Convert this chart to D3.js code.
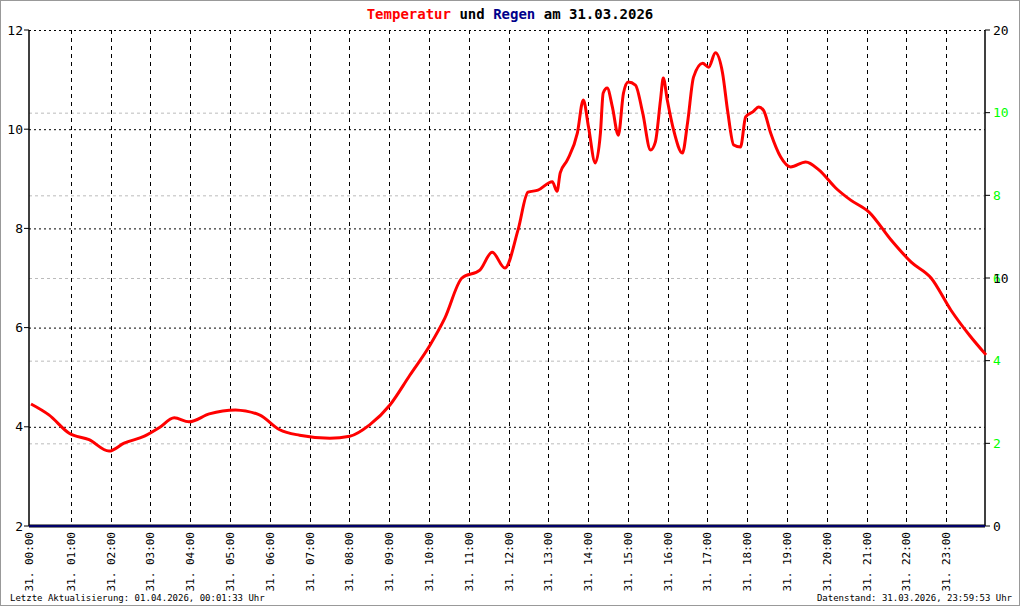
<!doctype html>
<html lang="de">
  <head>
    <meta charset="UTF-8" />
    <title>Temperatur und Regen am 31.03.2026</title>
    <script src="https://d3js.org/d3.v7.min.js"></script>
    <style>
      body { margin: 0; padding: 0; background: #fff; }
      svg { display: block; font-family: 'DejaVu Sans Mono', monospace; }
      .tick-label { font-size: 13px; }
      .x-label { font-size: 11px; }
      .footer { font-size: 9px; }
    </style>
  </head>
  <body>
    <div id="chart"></div>
    <script>
      // Zeitpunkte (Stunden) und Temperatur (°C)
      const hours = [0, 0.45, 0.96, 1.46, 1.96, 2.34, 2.85, 3.22, 3.6, 3.97, 4.48, 5.14, 5.74, 6.25, 6.75,
        7.51, 8.01, 8.51, 9.02, 9.52, 10.03, 10.4, 10.83, 11.28, 11.59, 11.91, 12.24, 12.49, 12.74,
        13.1, 13.22, 13.3, 13.48, 13.73, 13.88, 14.01, 14.18, 14.31, 14.38, 14.48, 14.61, 14.76,
        14.89, 15.01, 15.19, 15.37, 15.57, 15.69, 15.82, 15.89, 15.99, 16.15, 16.37, 16.5, 16.65,
        16.88, 17.03, 17.2, 17.38, 17.51, 17.66, 17.83, 17.96, 18.14, 18.29, 18.41, 18.59, 18.84,
        19.09, 19.47, 19.8, 20.23, 20.6, 21.06, 21.61, 22.12, 22.62, 23.12, 23.58, 24.0]
      const temps = [4.46, 4.24, 3.87, 3.74, 3.51, 3.67, 3.81, 3.98, 4.18, 4.1, 4.26, 4.34, 4.24, 3.94, 3.83,
        3.77, 3.81, 4.04, 4.44, 5.04, 5.65, 6.19, 7.0, 7.16, 7.52, 7.2, 7.97, 8.73, 8.77,
        8.94, 8.75, 9.12, 9.38, 9.92, 10.59, 10.05, 9.32, 9.92, 10.73, 10.83, 10.45, 9.88,
        10.73, 10.95, 10.89, 10.34, 9.58, 9.74, 10.59, 11.03, 10.59, 9.98, 9.52, 10.13, 11.05,
        11.33, 11.25, 11.54, 11.13, 10.35, 9.68, 9.64, 10.25, 10.35, 10.45, 10.38, 9.92, 9.44,
        9.24, 9.34, 9.18, 8.81, 8.57, 8.33, 7.77, 7.32, 7.0, 6.35, 5.85, 5.45]

      const hourTicks = d3.range(0, 24)
      const leftTicks = [2, 4, 6, 8, 10, 12]
      const rightTicks = [0, 2, 4, 6, 8, 10]
      const rightExtraLabels = [{ v: 12, t: '20' }, { v: 6, t: '10' }]

      const W = 1020, H = 606
      const m = { left: 29, right: 985, top: 30, bottom: 526 }

      const svg = d3.select('#chart').append('svg').attr('width', W).attr('height', H)

      svg.append('rect').attr('x', 0.5).attr('y', 0.5).attr('width', W - 1).attr('height', H - 1)
        .attr('fill', '#fff').attr('stroke', '#999')

      const x = d3.scaleLinear().domain([0, 24]).range([31, 986])
      const y = d3.scaleLinear().domain([2, 12]).range([m.bottom, m.top])
      const yR = d3.scaleLinear().domain([0, 12]).range([m.bottom, m.top])

      // grey dashed rain grid
      svg.append('g').selectAll('line').data(rightTicks.filter((d) => d > 0)).join('line')
        .attr('x1', m.left).attr('x2', m.right).attr('y1', (d) => yR(d) + 0.5).attr('y2', (d) => yR(d) + 0.5)
        .attr('stroke', '#bbb').attr('stroke-dasharray', '3,3')

      // black dotted temperature grid
      svg.append('g').selectAll('line').data(leftTicks.filter((d) => d > 2)).join('line')
        .attr('x1', m.left).attr('x2', m.right).attr('y1', (d) => y(d) + 0.5).attr('y2', (d) => y(d) + 0.5)
        .attr('stroke', '#000').attr('stroke-dasharray', '2,3')

      // hour lines
      svg.append('g').selectAll('line').data(hourTicks.slice(1)).join('line')
        .attr('x1', (d) => Math.round(x(d)) + 0.5).attr('x2', (d) => Math.round(x(d)) + 0.5)
        .attr('y1', m.top).attr('y2', m.bottom)
        .attr('stroke', '#000').attr('stroke-dasharray', '4,4')

      // axes
      svg.append('line').attr('x1', m.left).attr('x2', m.left).attr('y1', m.top).attr('y2', m.bottom)
        .attr('stroke', '#000').attr('stroke-width', 1.5)
      svg.append('line').attr('x1', m.right).attr('x2', m.right).attr('y1', m.top).attr('y2', m.bottom)
        .attr('stroke', '#000').attr('stroke-width', 1.5)

      svg.append('g').selectAll('line').data(leftTicks).join('line')
        .attr('x1', m.left - 5).attr('x2', m.left).attr('y1', (d) => y(d)).attr('y2', (d) => y(d))
        .attr('stroke', '#000')
      svg.append('g').selectAll('text').data(leftTicks).join('text')
        .attr('class', 'tick-label').attr('x', m.left - 6).attr('y', (d) => y(d)).attr('dy', '0.35em')
        .attr('text-anchor', 'end').text((d) => d)

      svg.append('g').selectAll('line').data(rightTicks.concat([12])).join('line')
        .attr('x1', m.right).attr('x2', m.right + 5).attr('y1', (d) => yR(d)).attr('y2', (d) => yR(d))
        .attr('stroke', '#000')
      svg.append('g').selectAll('text').data(rightTicks).join('text')
        .attr('class', 'tick-label').attr('x', m.right + 8).attr('y', (d) => yR(d)).attr('dy', '0.35em')
        .attr('fill', (d) => (d === 0 ? '#000' : '#00ff00')).text((d) => d)
      svg.append('g').selectAll('text').data(rightExtraLabels).join('text')
        .attr('class', 'tick-label').attr('x', m.right + 8).attr('y', (d) => yR(d.v)).attr('dy', '0.35em')
        .attr('fill', '#000').text((d) => d.t)

      // bottom (rain) line
      svg.append('line').attr('x1', m.left).attr('x2', m.right).attr('y1', m.bottom).attr('y2', m.bottom)
        .attr('stroke', '#000').attr('stroke-width', 3)
      svg.append('line').attr('x1', m.left).attr('x2', m.right).attr('y1', m.bottom).attr('y2', m.bottom)
        .attr('stroke', '#00008b').attr('stroke-width', 1.5)

      // x labels
      svg.append('g').selectAll('text').data(hourTicks).join('text')
        .attr('class', 'x-label')
        .attr('transform', (d) => `translate(${d === 0 ? m.left + 4 : x(d) + 4}, ${m.bottom + 6}) rotate(-90)`)
        .attr('text-anchor', 'end')
        .text((d) => `31. ${String(d).padStart(2, '0')}:00`)

      // temperature
      const pts = hours.map((h, i) => [h, temps[i]])
      svg.append('path').datum(pts)
        .attr('fill', 'none').attr('stroke', '#ff0000').attr('stroke-width', 3)
        .attr('d', d3.line().x((d) => x(d[0])).y((d) => y(d[1])).curve(d3.curveMonotoneX))

      // title
      const title = svg.append('text').attr('x', W / 2).attr('y', 19).attr('text-anchor', 'middle')
        .attr('font-size', 14).attr('font-weight', 'bold')
      title.append('tspan').attr('fill', '#ff0000').text('Temperatur')
      title.append('tspan').attr('fill', '#000').text(' und ')
      title.append('tspan').attr('fill', '#00008b').text('Regen')
      title.append('tspan').attr('fill', '#000').text(' am 31.03.2026')

      svg.append('text').attr('class', 'footer').attr('x', 10).attr('y', 601)
        .text('Letzte Aktualisierung: 01.04.2026, 00:01:33 Uhr')
      svg.append('text').attr('class', 'footer').attr('x', 1012).attr('y', 601).attr('text-anchor', 'end')
        .text('Datenstand: 31.03.2026, 23:59:53 Uhr')
    </script>
  </body>
</html>
